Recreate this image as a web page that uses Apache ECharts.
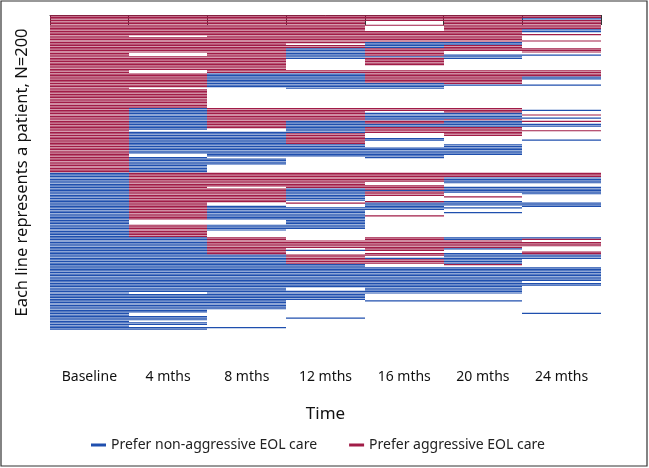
<!DOCTYPE html>
<html><head><meta charset="utf-8">
<script src="https://cdn.jsdelivr.net/npm/echarts@6/dist/echarts.min.js"></script>
<style>html,body{margin:0;padding:0;background:#fff}#c{width:649px;height:468px}</style>
</head><body><div id="c"></div>
<script>
// Time points (x categories)
const timeLabels = ['Baseline', '4 mths', '8 mths', '12 mths', '16 mths', '20 mths', '24 mths'];
const nPatients = 200;
// Each time point: runs of patient rows (0 = top). A = prefer aggressive, N = prefer non-aggressive, unlisted = missing
const baseline = ['A0-99', 'N100-199'];
const mths4 = ['A0-12', 'A14-23', 'A26-34', 'A37-45', 'A47-58', 'N59-72', 'N74-87', 'N90-99', 'A100-129', 'A133-140', 'N141-175', 'N177-188', 'N191-193', 'N195-196', 'N198-199'];
const mths8 = ['A0-36', 'N37-45', 'A59-71', 'N74-89', 'N91-94', 'A100-108', 'A110-118', 'N121-129', 'N133-136', 'A141-151', 'N152-186', 'N198'];
const mths12 = ['A0-17', 'A19-20', 'N21-27', 'A35-36', 'N37-46', 'A59-66', 'N67-74', 'A75-81', 'N82-89', 'A100-109', 'N110-117', 'A119', 'N122-135', 'A143-147', 'N149', 'A152-157', 'N158-172', 'N175-180', 'N192'];
const mths16 = ['A0-3', 'A6', 'A10-16', 'N17-20', 'A21-25', 'N26', 'A27-31', 'A35-42', 'N43-46', 'A59-60', 'N62-66', 'A67-68', 'N69-70', 'A71-74', 'N78-79', 'N84-90', 'A100-105', 'A108-110', 'N111', 'A112-114', 'A118', 'N119-123', 'A127', 'A141-149', 'A151-152', 'N154', 'A155-157', 'N160-176', 'N181'];
const mths20 = ['A0-16', 'N17-18', 'A19-22', 'N25-27', 'A35-43', 'N44', 'A59-61', 'N62-65', 'A66', 'N67-70', 'A71-76', 'N82-88', 'A100-102', 'N103-106', 'N109-112', 'A115', 'N118-120', 'N122', 'N125', 'N141-142', 'A143-147', 'N148', 'N151-157', 'A158', 'N160-176', 'N181'];
const mths24 = ['A0-1', 'N2', 'A3-8', 'N9-10', 'A12', 'A16', 'A21-23', 'N25', 'A35-38', 'N39-40', 'N44', 'N60', 'A63', 'N65', 'A67', 'N69-70', 'A73', 'N79', 'A100-102', 'N103-106', 'N109-113', 'N119-121', 'N141', 'A142', 'A144-146', 'A150-151', 'N152-154', 'N160-168', 'N170-171', 'N189'];
const legendNames = ['Prefer non-aggressive EOL care', 'Prefer aggressive EOL care'];

const columns = [baseline, mths4, mths8, mths12, mths16, mths20, mths24];
function decode(runs) {
  const arr = new Array(nPatients).fill(null);
  runs.forEach(s => {
    const st = s[0];
    const parts = s.slice(1).split('-').map(Number);
    const a = parts[0], b = parts.length > 1 ? parts[1] : parts[0];
    for (let i = a; i <= b; i++) arr[i] = st;
  });
  return arr;
}
const aggr = [], nonAggr = [];
columns.forEach((runs, c) => {
  decode(runs).forEach((st, r) => {
    if (st === 'A') aggr.push([c, r]);
    else if (st === 'N') nonAggr.push([c, r]);
  });
});

function renderItem(params, api) {
  const c = api.value(0), r = api.value(1);
  const p0 = api.coord([c, r]);
  const p1 = api.coord([c, r + 1]);
  const w = api.size([1, 0])[0];
  const h = p1[1] - p0[1];
  const x0 = Math.round(p0[0] - w / 2), x1 = Math.round(p0[0] + w / 2);
  return {
    type: 'rect',
    shape: { x: x0, y: p0[1] + h * 0.12, width: x1 - x0, height: h * 0.76 },
    style: { fill: api.visual('color') }
  };
}

const FONT = 'Noto Sans';
const chart = echarts.init(document.getElementById('c'), null, { renderer: 'canvas' });
chart.setOption({
  animation: false,
  backgroundColor: '#fff',
  textStyle: { fontFamily: FONT },
  graphic: [{
    type: 'rect', shape: { x: 1, y: 1, width: 646, height: 465 },
    style: { fill: 'none', stroke: '#333', lineWidth: 1.2 }, silent: true, z: 100
  }],
  grid: { left: 50, right: 48, top: 15, bottom: 138 },
  legend: {
    data: legendNames, top: 433, left: 86, icon: 'rect', itemWidth: 15, itemHeight: 3, itemGap: 32,
    textStyle: { fontFamily: FONT, fontSize: 14, color: '#222' }
  },
  xAxis: {
    type: 'category', data: timeLabels, boundaryGap: true, offset: 17,
    axisLine: { lineStyle: { color: '#333', width: 1 } },
    axisTick: { show: true, alignWithLabel: false, length: 10, lineStyle: { color: '#333' } },
    axisLabel: { margin: 23, fontSize: 14, color: '#111', fontFamily: FONT },
    splitLine: { show: false },
    name: 'Time', nameLocation: 'middle', nameGap: 59,
    nameTextStyle: { fontSize: 17, color: '#111', fontFamily: FONT }
  },
  yAxis: {
    type: 'value', min: 0, max: nPatients, inverse: true,
    axisLine: { show: false }, axisTick: { show: false }, axisLabel: { show: false }, splitLine: { show: false },
    name: 'Each line represents a patient, N=200', nameLocation: 'middle', nameRotate: 90, nameGap: 19,
    nameTextStyle: { fontSize: 16.5, color: '#111', fontFamily: FONT }
  },
  series: [
    { name: legendNames[0], type: 'custom', renderItem: renderItem, data: nonAggr, encode: { x: 0, y: 1 }, itemStyle: { color: '#1F4FAE' } },
    { name: legendNames[1], type: 'custom', renderItem: renderItem, data: aggr, encode: { x: 0, y: 1 }, itemStyle: { color: '#A11C47' } }
  ]
});
</script></body></html>
